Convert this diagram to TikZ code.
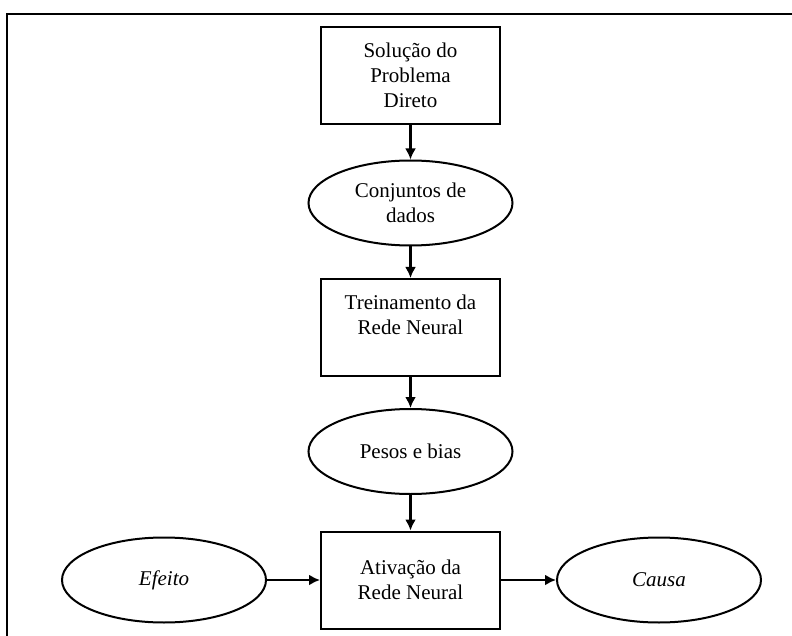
\documentclass[tikz,border=0pt]{standalone}
\usepackage{fontspec}
\setmainfont{Liberation Serif}
\usepackage{tikz}
\usetikzlibrary{shapes,arrows,arrows.meta,positioning}
\tikzset{
block/.style = {draw, fill=white, rectangle, line width=2pt, minimum height=97pt, minimum width=179pt, align=center},
data/.style = {draw, fill=white, ellipse, line width=2pt, minimum height=85pt, minimum width=204pt, align=center},
link/.style = {->, line width=2.6pt}
}

\begin{document}
\begin{tikzpicture}[x=1pt,y=1pt,>={Latex[length=11pt,width=11pt]},font=\fontsize{21}{25}\selectfont]
    \useasboundingbox (0,0) rectangle (792,-636);
    \draw [line width=2.2pt] (7,-636) -- (7,-14) -- (792,-14);
    \node [block] (direct) at (410.5,-75.5) {Solução do\\ Problema\\ Direto};
    \node [data, below of=direct, node distance=127.5pt] (sets) {Conjuntos de\\ dados};
    \draw [link] (direct) -- (sets);
    \node [block, below of=sets, node distance=124.5pt] (train) {Treinamento da\\ Rede Neural\\ \mbox{}};
    \draw [link] (sets) -- (train);
    \node [data, below of=train, node distance=124pt] (weights) {Pesos e bias};
    \draw [link] (train) -- (weights);
    \node [block, below of=weights, node distance=128.5pt] (act) {Ativação da\\ Rede Neural};
    \draw [link] (weights) -- (act);
    \node [data, left of=act, node distance=246.5pt] (effect) {\itshape Efeito};
    \draw [link] (effect) -- (act);
    \node [data, right of=act, node distance=248.5pt] (cause) {\itshape Causa};
    \draw [link] (act) -- (cause);
\end{tikzpicture}
\end{document}
